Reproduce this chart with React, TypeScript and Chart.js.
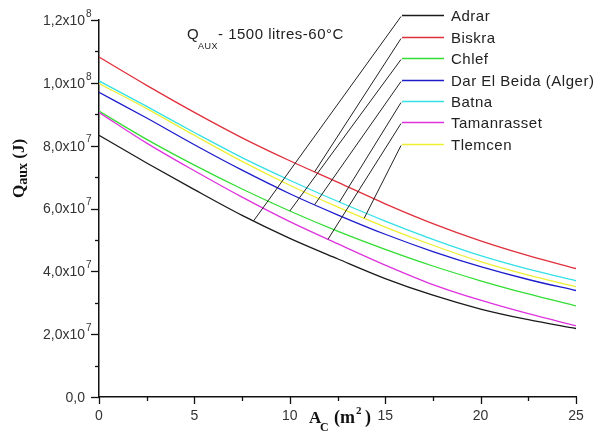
import { useEffect, useRef } from "react";
import { Chart, registerables } from "chart.js";

Chart.register(...registerables);

// collector area A_C (m2)
const areas = [0, 2.5, 5, 7.5, 10, 12.5, 15, 17.5, 20, 22.5, 25];
// Q_aux values in units of 1e7 J
const UNIT = 1e7;
const adrar = [8.33, 7.45, 6.6, 5.78, 5.05, 4.4, 3.77, 3.24, 2.8, 2.46, 2.18];
const biskra = [10.82, 9.92, 9.06, 8.25, 7.52, 6.84, 6.15, 5.52, 4.97, 4.5, 4.09];
const chlef = [9.1, 8.2, 7.38, 6.62, 5.92, 5.28, 4.7, 4.17, 3.7, 3.28, 2.9];
const darElBeida = [9.7, 8.88, 8.03, 7.22, 6.47, 5.8, 5.18, 4.63, 4.15, 3.74, 3.39];
const batna = [10.06, 9.25, 8.42, 7.62, 6.9, 6.23, 5.6, 5.02, 4.5, 4.07, 3.7];
const tamanrasset = [9.06, 8.08, 7.2, 6.36, 5.58, 4.88, 4.2, 3.58, 3.08, 2.65, 2.27];
const tlemcen = [9.98, 9.18, 8.33, 7.5, 6.74, 6.05, 5.41, 4.83, 4.31, 3.88, 3.51];

const seriesNames = ["Adrar", "Biskra", "Chlef", "Dar El Beida (Alger)", "Batna", "Tamanrasset", "Tlemcen"];
const seriesValues = [adrar, biskra, chlef, darElBeida, batna, tamanrasset, tlemcen];
const seriesColors = ["#1a1a1a", "#e0303c", "#33dd33", "#1c1ccc", "#33e0e6", "#dd33dd", "#eeee33"];
// x-value (m2) where each legend pointer touches its curve
const pointerAt = [8.1, 11.3, 10.0, 11.3, 12.6, 12.0, 13.9];

const xTicks = [0, 5, 10, 15, 20, 25];
const yTickValues = [0, 2e7, 4e7, 6e7, 8e7, 1e8, 1.2e8];
const yTickMantissa = ["0,0", "2,0x10", "4,0x10", "6,0x10", "8,0x10", "1,0x10", "1,2x10"];
const yTickExponent = ["", "7", "7", "7", "7", "8", "8"];

const SANS = "'Liberation Sans', Arial, sans-serif";
const SERIF = "'Liberation Serif', 'Times New Roman', serif";

function interp(xs: number[], ys: number[], x: number) {
  for (let i = 0; i < xs.length - 1; i++) {
    if (x >= xs[i] && x <= xs[i + 1]) {
      const t = (x - xs[i]) / (xs[i + 1] - xs[i]);
      return ys[i] + t * (ys[i + 1] - ys[i]);
    }
  }
  return ys[ys.length - 1];
}

const decorPlugin = {
  id: "decor",
  afterDraw(chart: any) {
    const ctx = chart.ctx as CanvasRenderingContext2D;
    const xs = chart.scales.x;
    const ys = chart.scales.y;
    const area = chart.chartArea;
    ctx.save();
    // tick marks (major + minor)
    ctx.strokeStyle = "#111";
    ctx.lineWidth = 1.3;
    for (let v = 0; v <= 25.001; v += 2.5) {
      const px = Math.round(xs.getPixelForValue(v)) + 0.5;
      const major = Math.abs(v / 5 - Math.round(v / 5)) < 1e-6;
      ctx.beginPath();
      ctx.moveTo(px, area.bottom);
      ctx.lineTo(px, area.bottom + (major ? 7 : 4));
      ctx.stroke();
    }
    for (let v = 0; v <= 1.2e8 + 1; v += 1e7) {
      const py = Math.round(ys.getPixelForValue(v)) + 0.5;
      const major = Math.round(v / 1e7) % 2 === 0;
      ctx.beginPath();
      ctx.moveTo(area.left, py);
      ctx.lineTo(area.left - (major ? 8 : 4), py);
      ctx.stroke();
    }

    // y tick labels with superscript exponent
    ctx.fillStyle = "#333";
    ctx.textBaseline = "middle";
    yTickValues.forEach((v, i) => {
      const py = ys.getPixelForValue(v) + 1;
      ctx.font = `14px ${SANS}`;
      ctx.textAlign = "right";
      ctx.fillText(yTickMantissa[i], 85, py);
      if (yTickExponent[i]) {
        ctx.font = `10px ${SANS}`;
        ctx.textAlign = "left";
        ctx.fillText(yTickExponent[i], 86, py - 7);
      }
    });

    // legend
    const legendY = [15, 37, 58, 80, 101, 122, 144];
    ctx.font = `15px ${SANS}`;
    (ctx as any).letterSpacing = "0.5px";
    ctx.textBaseline = "middle";
    ctx.textAlign = "left";
    seriesNames.forEach((name, i) => {
      const y = legendY[i] + 0.5;
      ctx.strokeStyle = seriesColors[i];
      ctx.lineWidth = 1.3;
      ctx.beginPath();
      ctx.moveTo(402, y);
      ctx.lineTo(444, y);
      ctx.stroke();
      ctx.fillStyle = "#222";
      ctx.fillText(name, 451, y + 1);
      // pointer to curve
      const tx = xs.getPixelForValue(pointerAt[i]);
      const ty = ys.getPixelForValue(interp(areas, seriesValues[i], pointerAt[i]) * UNIT);
      ctx.strokeStyle = "#222";
      ctx.lineWidth = 1;
      ctx.beginPath();
      ctx.moveTo(401, y + 1);
      ctx.lineTo(tx, ty);
      ctx.stroke();
    });

    // inner title
    ctx.fillStyle = "#222";
    ctx.textBaseline = "alphabetic";
    ctx.font = `15px ${SANS}`;
    ctx.fillText("Q", 187, 39);
    ctx.font = `9px ${SANS}`;
    ctx.fillText("AUX", 198, 49);
    ctx.font = `15px ${SANS}`;
    ctx.fillText("- 1500 litres-60\u00B0C", 218, 39);
    (ctx as any).letterSpacing = "0px";

    // x axis title
    ctx.fillStyle = "#111";
    ctx.font = `bold 17px ${SERIF}`;
    ctx.fillText("A", 309, 423);
    ctx.font = `bold 12px ${SERIF}`;
    ctx.fillText("C", 320, 431);
    ctx.font = `bold 18px ${SERIF}`;
    ctx.fillText("(m", 334, 423);
    ctx.font = `bold 11px ${SERIF}`;
    ctx.fillText("2", 356, 414);
    ctx.font = `bold 18px ${SERIF}`;
    ctx.fillText(")", 365, 423);

    // y axis title (rotated)
    ctx.translate(24, 198);
    ctx.rotate(-Math.PI / 2);
    ctx.font = `bold 17px ${SERIF}`;
    ctx.fillText("Q", 0, 0);
    let w = ctx.measureText("Q").width;
    ctx.font = `bold 14px ${SERIF}`;
    ctx.fillText("aux", w, 3);
    w += ctx.measureText("aux").width;
    ctx.font = `bold 17px ${SERIF}`;
    ctx.fillText(" (J)", w, 0);
    ctx.restore();
  },
};

export default function App() {
  const canvasRef = useRef<HTMLCanvasElement | null>(null);

  useEffect(() => {
    const canvas = canvasRef.current;
    if (!canvas) return;
    const chart = new Chart(canvas, {
      type: "line",
      data: {
        datasets: seriesNames.map((name, i) => ({
          label: name,
          data: areas.map((a, j) => ({ x: a, y: seriesValues[i][j] * UNIT })),
          borderColor: seriesColors[i],
          backgroundColor: seriesColors[i],
          borderWidth: 1.3,
          pointRadius: 0,
          tension: 0.3,
          cubicInterpolationMode: "monotone" as const,
          fill: false,
        })),
      },
      options: {
        animation: false,
        responsive: false,
        maintainAspectRatio: false,
        layout: { padding: { left: 0, top: 20, right: 20, bottom: 0 } },
        plugins: {
          legend: { display: false },
          tooltip: { enabled: false },
          title: { display: false },
        },
        scales: {
          x: {
            type: "linear",
            min: 0,
            max: 25,
            afterBuildTicks: (scale: any) => {
              scale.ticks = xTicks.map((v) => ({ value: v }));
            },
            afterFit: (scale: any) => {
              scale.height = 37;
            },
            ticks: {
              padding: 11,
              color: "#333",
              font: { family: SANS, size: 14 },
              maxRotation: 0,
              autoSkip: false,
            },
            grid: { display: true, drawOnChartArea: false, drawTicks: false },
            border: { display: true, color: "#111", width: 1.5 },
          },
          y: {
            type: "linear",
            min: 0,
            max: 1.2e8,
            afterBuildTicks: (scale: any) => {
              scale.ticks = yTickValues.map((v) => ({ value: v }));
            },
            afterFit: (scale: any) => {
              scale.width = 99;
            },
            ticks: { display: false },
            grid: { display: true, drawOnChartArea: false, drawTicks: false },
            border: { display: true, color: "#111", width: 1.5 },
          },
        },
      },
      plugins: [decorPlugin],
    });
    return () => chart.destroy();
  }, []);

  return (
    <div style={{ position: "fixed", left: 0, top: 0, width: 596, height: 434, background: "#fff" }}>
      <canvas ref={canvasRef} width={596} height={434} style={{ display: "block", width: 596, height: 434 }} />
    </div>
  );
}
